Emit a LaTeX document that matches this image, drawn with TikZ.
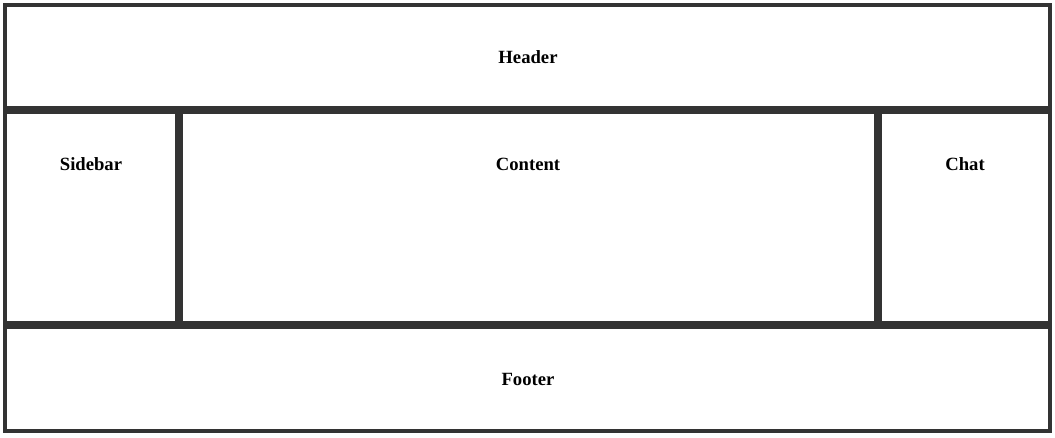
\documentclass[tikz,border=0pt]{standalone}
\usepackage{fontspec}
\setmainfont{Liberation Serif}
\definecolor{frame}{HTML}{333333}
\begin{document}
\begin{tikzpicture}[x=0.75pt,y=-0.75pt,
  panel/.style={draw=frame,line width=3pt},
  lbl/.style={font=\fontsize{14}{16}\selectfont\bfseries,text=black,inner sep=0pt}]
\useasboundingbox[fill=white] (0,0) rectangle (1055,437);
\draw[panel] (5,5) rectangle (1050,108);
\draw[panel] (5,112) rectangle (177,323);
\draw[panel] (181,112) rectangle (876,323);
\draw[panel] (880,112) rectangle (1050,323);
\draw[panel] (5,327) rectangle (1050,431);
\node[lbl] (header) at (528,57) {Header};
\node[lbl] (sidebar) at (91,164) {Sidebar};
\node[lbl] (content) at (528,164) {Content};
\node[lbl] (chat) at (965,164) {Chat};
\node[lbl] (footer) at (528,379) {Footer};
\end{tikzpicture}
\end{document}
